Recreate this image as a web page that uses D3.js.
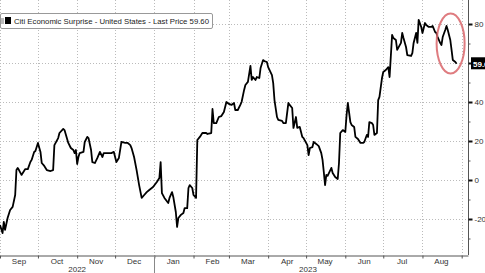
<!DOCTYPE html>
<html>
<head>
<meta charset="utf-8">
<script src="https://cdn.jsdelivr.net/npm/d3@7"></script>
<style>
  body { margin: 0; background: #fff; }
  svg { display: block; font-family: "Liberation Sans", Arial, sans-serif; }
</style>
</head>
<body>
<div id="chart"></div>
<script>
// Citi Economic Surprise Index - United States
var dates = [
  "2022-09-01","2022-09-03","2022-09-04","2022-09-05","2022-09-07","2022-09-09","2022-09-11","2022-09-13","2022-09-14","2022-09-15",
  "2022-09-16","2022-09-18","2022-09-21","2022-09-23","2022-09-25","2022-09-26","2022-09-28","2022-09-29","2022-10-01","2022-10-03",
  "2022-10-04","2022-10-06","2022-10-08","2022-10-11","2022-10-13","2022-10-14","2022-10-17","2022-10-18","2022-10-21","2022-10-22",
  "2022-10-25","2022-10-27","2022-10-29","2022-10-30","2022-10-31","2022-11-01","2022-11-02","2022-11-03","2022-11-06","2022-11-07",
  "2022-11-09","2022-11-10","2022-11-12","2022-11-13","2022-11-15","2022-11-17","2022-11-19","2022-11-21","2022-11-22","2022-11-25",
  "2022-11-28","2022-11-30","2022-12-02","2022-12-04","2022-12-06","2022-12-09","2022-12-11","2022-12-13","2022-12-14","2022-12-16",
  "2022-12-18","2022-12-20","2022-12-22","2022-12-24","2022-12-26","2022-12-28","2022-12-31","2023-01-03","2023-01-05","2023-01-06",
  "2023-01-07","2023-01-09","2023-01-12","2023-01-13","2023-01-15","2023-01-16","2023-01-18","2023-01-19","2023-01-20","2023-01-22",
  "2023-01-24","2023-01-25","2023-01-27","2023-01-28","2023-01-29","2023-01-31","2023-02-01","2023-02-03","2023-02-04","2023-02-06",
  "2023-02-08","2023-02-11","2023-02-12","2023-02-15","2023-02-16","2023-02-17","2023-02-19","2023-02-21","2023-02-23","2023-02-25",
  "2023-02-27","2023-03-01","2023-03-03","2023-03-05","2023-03-06","2023-03-08","2023-03-10","2023-03-11","2023-03-13","2023-03-14",
  "2023-03-16","2023-03-18","2023-03-19","2023-03-20","2023-03-22","2023-03-23","2023-03-25","2023-03-26","2023-03-28","2023-03-29",
  "2023-03-31","2023-04-01","2023-04-04","2023-04-05","2023-04-06","2023-04-08","2023-04-09","2023-04-12","2023-04-13","2023-04-15",
  "2023-04-17","2023-04-18","2023-04-20","2023-04-21","2023-04-23","2023-04-24","2023-04-26","2023-04-28","2023-04-29","2023-05-02",
  "2023-05-03","2023-05-04","2023-05-06","2023-05-07","2023-05-09","2023-05-11","2023-05-13","2023-05-14","2023-05-15","2023-05-16",
  "2023-05-17","2023-05-18","2023-05-21","2023-05-22","2023-05-24","2023-05-26","2023-05-27","2023-05-28","2023-05-30","2023-06-01",
  "2023-06-02","2023-06-03","2023-06-05","2023-06-06","2023-06-08","2023-06-09","2023-06-11","2023-06-13","2023-06-15","2023-06-16",
  "2023-06-18","2023-06-19","2023-06-20","2023-06-22","2023-06-23","2023-06-24","2023-06-26","2023-06-27","2023-06-28","2023-06-30",
  "2023-07-01","2023-07-03","2023-07-05","2023-07-06","2023-07-08","2023-07-09","2023-07-11","2023-07-12","2023-07-15","2023-07-16",
  "2023-07-17","2023-07-19","2023-07-20","2023-07-23","2023-07-24","2023-07-25","2023-07-27","2023-07-28","2023-07-29","2023-07-31",
  "2023-08-01","2023-08-03","2023-08-04","2023-08-06","2023-08-08","2023-08-09","2023-08-11","2023-08-12","2023-08-13","2023-08-15",
  "2023-08-16","2023-08-17","2023-08-19","2023-08-20","2023-08-21","2023-08-23","2023-08-24","2023-08-25","2023-08-27","2023-08-28"
];
var values = [
  -23.1,-27.2,-21.5,-25.6,-19.5,-15.4,-13.8,-7.7,5.1,6.2,
  5.1,2.6,5.6,5.6,9.2,10.3,14.4,14.9,19.0,14.4,
  8.7,7.2,5.1,4.6,5.1,17.9,21.5,24.1,26.2,25.6,
  19.0,16.4,15.4,13.8,15.4,8.2,11.8,13.8,14.4,19.5,
  22.1,21.5,15.4,9.2,8.7,11.3,14.4,11.8,13.8,13.8,
  13.8,14.4,9.2,11.3,19.5,19.0,19.0,17.9,16.4,11.8,
  5.1,-2.6,-9.2,-7.7,-6.2,-5.1,-3.6,-1.0,1.0,9.2,
  -6.7,-9.2,-11.8,-9.2,-6.2,-8.7,-16.4,-24.1,-19.5,-17.9,
  -16.9,-14.4,-14.4,-4.1,-2.6,-4.1,-7.7,-9.2,20.5,22.1,
  24.1,24.1,23.6,24.1,36.4,29.2,29.2,32.3,32.8,34.9,
  40.0,39.0,38.5,39.5,35.9,35.9,38.5,40.0,46.2,48.7,
  50.3,58.5,51.3,52.8,51.3,52.8,52.3,57.4,61.5,61.0,
  60.5,57.9,53.8,49.7,41.0,32.3,30.8,30.3,29.2,29.2,
  39.5,38.5,36.9,26.7,32.3,26.7,27.2,22.1,21.5,17.9,
  12.8,16.4,16.9,19.5,18.5,17.4,13.8,10.3,4.1,-2.6,
  2.6,2.1,6.2,3.6,1.5,0.5,8.7,24.1,25.6,24.6,
  33.3,39.5,29.7,28.2,27.2,22.1,21.0,19.0,19.0,19.5,
  23.1,22.1,29.7,29.2,28.2,23.1,24.1,41.0,42.6,52.3,
  55.4,56.4,57.9,52.8,74.4,72.8,71.8,66.7,70.3,75.4,
  72.8,68.2,64.1,63.6,65.1,70.3,75.4,70.3,82.1,78.5,
  75.4,80.5,79.5,78.5,78.5,79.0,75.9,75.4,73.3,70.3,
  69.2,73.3,76.9,79.0,76.9,71.8,66.7,61.5,60.5,59.6
];
var majorTicks = [-20, 0, 20, 40, 60, 80];
var minorTicks = [-30, -10, 10, 30, 50, 70];
var years = [
  { label: "2022", from: "2022-09-01", to: "2023-01-01" },
  { label: "2023", from: "2023-01-01", to: "2023-09-01" }
];
var seriesName = "Citi Economic Surprise - United States - Last Price";
var lastPrice = "59.60";

var W = 485, H = 273;
var plotRight = 468, plotBottom = 255;
var parse = d3.timeParse("%Y-%m-%d");

var data = dates.map(function(d, i) { return { date: parse(d), value: values[i] }; });

var x = d3.scaleTime()
    .domain([parse("2022-09-01"), parse("2023-09-06")])
    .range([0, plotRight]);
var y = d3.scaleLinear().domain([-20, 80]).range([219, 24]);

var svg = d3.select("#chart").append("svg")
    .attr("width", W)
    .attr("height", H);

var months = d3.timeMonth.range(parse("2022-09-01"), parse("2023-09-02"));

// grid
svg.append("g").selectAll("line")
    .data(majorTicks)
    .enter().append("line")
    .attr("x1", 0).attr("x2", plotRight)
    .attr("y1", function(d) { return Math.round(y(d)) + 0.5; })
    .attr("y2", function(d) { return Math.round(y(d)) + 0.5; })
    .attr("stroke", "#bbb")
    .attr("stroke-dasharray", "1,2");

svg.append("g").selectAll("line")
    .data(months)
    .enter().append("line")
    .attr("x1", function(d) { return Math.round(x(d)) + 0.5; })
    .attr("x2", function(d) { return Math.round(x(d)) + 0.5; })
    .attr("y1", 0).attr("y2", plotBottom)
    .attr("stroke", "#bbb")
    .attr("stroke-dasharray", "1,2");

// bottom axis
var xAxis = svg.append("g")
    .attr("transform", "translate(0," + (plotBottom + 0.5) + ")")
    .call(d3.axisBottom(x).tickValues(months).tickFormat("").tickSize(3).tickSizeOuter(0));
xAxis.selectAll("path,line").attr("stroke", "#555");

svg.append("g").selectAll("text")
    .data(months.slice(0, -1))
    .enter().append("text")
    .attr("x", function(d) { return x(new Date(d.getTime() + 15 * 864e5)); })
    .attr("y", 264)
    .attr("text-anchor", "middle")
    .attr("font-size", 8)
    .attr("fill", "#333")
    .text(d3.timeFormat("%b"));

// years
svg.append("line")
    .attr("x1", Math.round(x(parse("2023-01-01"))) + 0.5)
    .attr("x2", Math.round(x(parse("2023-01-01"))) + 0.5)
    .attr("y1", plotBottom).attr("y2", H)
    .attr("stroke", "#888");

svg.append("g").selectAll("text")
    .data(years)
    .enter().append("text")
    .attr("x", function(d) { return (x(parse(d.from)) + x(parse(d.to))) / 2; })
    .attr("y", 272)
    .attr("text-anchor", "middle")
    .attr("font-size", 8)
    .attr("fill", "#333")
    .text(function(d) { return d.label; });

// right axis
svg.append("line")
    .attr("x1", plotRight + 0.5).attr("x2", plotRight + 0.5)
    .attr("y1", 0).attr("y2", plotBottom)
    .attr("stroke", "#555");

var yMinor = svg.append("g")
    .attr("transform", "translate(" + (plotRight + 0.5) + ",0)")
    .call(d3.axisRight(y).tickValues(minorTicks).tickFormat("").tickSize(2));
yMinor.select(".domain").remove();
yMinor.selectAll("line").attr("stroke", "#555");

var last = data[data.length - 1];

// the 60 label sits under the last-price tag, so it is left blank
var yAxis = svg.append("g")
    .attr("transform", "translate(" + (plotRight + 0.5) + ",0)")
    .call(d3.axisRight(y).tickValues(majorTicks).tickSize(4).tickPadding(2)
      .tickFormat(function(d) { return Math.abs(d - last.value) < 5 ? "" : d; }));
yAxis.select(".domain").remove();
yAxis.selectAll("line").attr("stroke", "#111").attr("stroke-width", 2);
yAxis.selectAll("text")
    .attr("font-size", 8)
    .attr("font-family", "Liberation Sans, Arial, sans-serif")
    .attr("fill", "#333");

// line
var line = d3.line()
    .x(function(d) { return x(d.date); })
    .y(function(d) { return y(d.value); });

svg.append("path")
    .datum(data)
    .attr("fill", "none")
    .attr("stroke", "#000")
    .attr("stroke-width", 1.8)
    .attr("stroke-linejoin", "round")
    .attr("d", line);

// highlight ellipse around the latest drop
svg.append("ellipse")
    .attr("cx", x(last.date) - 6)
    .attr("cy", y(70))
    .attr("rx", 14)
    .attr("ry", 30)
    .attr("fill", "none")
    .attr("stroke", "#d9656a")
    .attr("stroke-opacity", 0.85)
    .attr("stroke-width", 2);

// last price tag
svg.append("rect")
    .attr("x", 471).attr("y", y(last.value) - 6.5)
    .attr("width", 20).attr("height", 12)
    .attr("fill", "#000");
svg.append("text")
    .attr("x", 473).attr("y", y(last.value) + 3)
    .attr("font-size", 8)
    .attr("font-weight", "bold")
    .attr("fill", "#fff")
    .text(lastPrice);

// legend
var legend = svg.append("g");
legend.append("rect")
    .attr("x", 0.5).attr("y", 13.5)
    .attr("width", 212).attr("height", 15)
    .attr("rx", 1.5)
    .attr("fill", "#fff")
    .attr("stroke", "#999");
legend.append("rect")
    .attr("x", 1).attr("y", 18).attr("width", 3).attr("height", 6)
    .attr("fill", "#bbb");
legend.append("rect")
    .attr("x", 5).attr("y", 17).attr("width", 6).attr("height", 7)
    .attr("fill", "#000");
legend.append("text")
    .attr("x", 14).attr("y", 24)
    .attr("font-size", 8)
    .attr("fill", "#222")
    .attr("textLength", 195)
    .attr("lengthAdjust", "spacingAndGlyphs")
    .text(seriesName + " " + lastPrice);
</script>
</body>
</html>
